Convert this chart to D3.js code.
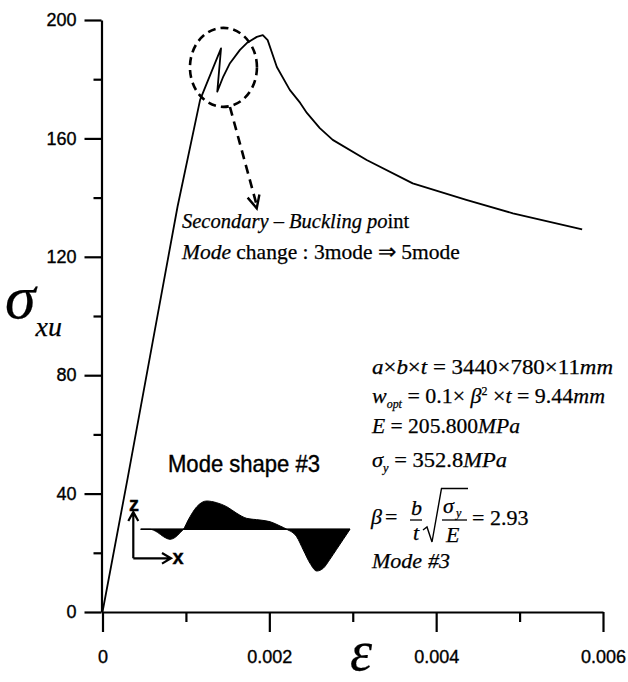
<!DOCTYPE html>
<html>
<head>
<meta charset="utf-8">
<script src="https://cdn.jsdelivr.net/npm/d3@7"></script>
<style>
body { margin: 0; background: #fff; }
text { fill: #000; }
.tick text { font-family: "Liberation Sans", Arial, sans-serif; font-size: 18px; stroke: #000; stroke-width: 0.35px; }
.serif { font-family: "Liberation Serif", "Times New Roman", serif; stroke: #000; stroke-width: 0.25px; }
.sans { font-family: "Liberation Sans", Arial, sans-serif; stroke: #000; stroke-width: 0.4px; }
</style>
</head>
<body>
<div id="chart"></div>
<script>
// load-shortening curve (strain, stress in MPa)
var strain = [0, 0.0003, 0.0006, 0.0009, 0.00117, 0.00125, 0.00135, 0.001421, 0.001376, 0.001448,
  0.001528, 0.001648, 0.00173, 0.00185, 0.001922, 0.00198, 0.00209, 0.002245, 0.00237,
  0.00245, 0.002605, 0.00276, 0.003167, 0.003719, 0.004361, 0.00492, 0.00575];
var stress = [0, 45, 91, 137, 173, 178.6, 185.5, 190.4, 175.8, 180.9,
  185.4, 189.9, 192.2, 194.3, 194.9, 193.2, 184.1, 176.4, 172,
  168.6, 163.5, 159.5, 152.7, 144.8, 139.2, 134.7, 129.3];

// axis ticks
var yMajor = [0, 40, 80, 120, 160, 200];
var yMinor = [20, 60, 100, 140, 180];
var xMajor = [0, 0.002, 0.004, 0.006];
var xMinor = [0.001, 0.003, 0.005];
var xTickLabels = ["0", "0.002", "0.004", "0.006"];

// mode shape #3 : position along plate (0..1) and deflection
var modePos = [0, 0.045, 0.08, 0.11, 0.14, 0.165, 0.19, 0.204, 0.227, 0.268, 0.315, 0.363, 0.411,
  0.459, 0.506, 0.57, 0.618, 0.666, 0.698, 0.745, 0.777, 0.809, 0.841, 0.872, 0.904, 0.936, 0.968, 1];
var modeDefl = [0, 0, -3, -7.5, -10, -8, -3, 0, 9.3, 22.6, 28.3, 26.6, 22.6,
  16, 11, 9.3, 7.6, 3.3, 0, -7.4, -20.7, -34, -41.7, -39, -30, -20, -10, 0];

// annotation: circled point and arrow (data units)
var circleAt = [0.00145, 184];
var arrowFrom = [0.001528, 170.6];
var arrowTo = [0.001849, 136.4];

var W = 628, H = 682;
var svg = d3.select("#chart").append("svg").attr("width", W).attr("height", H);

var x = d3.scaleLinear().domain([0, 0.006]).range([102.5, 603]);
var y = d3.scaleLinear().domain([0, 200]).range([612, 20]);

// y axis
var gy = svg.append("g").attr("transform", "translate(101.5,0)")
  .call(d3.axisLeft(y).tickValues(yMajor).tickSize(17).tickSizeOuter(0).tickPadding(8).tickFormat(d3.format("d")));
var gy2 = svg.append("g").attr("transform", "translate(101.5,0)")
  .call(d3.axisLeft(y).tickValues(yMinor).tickSize(8).tickFormat(""));
gy2.select(".domain").remove();

// x axis
var gx = svg.append("g").attr("transform", "translate(0,612)")
  .call(d3.axisBottom(x).tickValues(xMajor).tickSize(20).tickSizeOuter(0)
    .tickFormat(function(d, i) { return xTickLabels[i]; }));
gx.selectAll(".tick text").attr("y", 38);
var gx2 = svg.append("g").attr("transform", "translate(0,612)")
  .call(d3.axisBottom(x).tickValues(xMinor).tickSize(10).tickFormat(""));
gx2.select(".domain").remove();

svg.selectAll(".domain, .tick line").attr("stroke", "#000").attr("stroke-width", 2.2);

// curve
var line = d3.line()
  .x(function(i) { return x(strain[i]); })
  .y(function(i) { return y(stress[i]); });
svg.append("path")
  .attr("d", line(d3.range(strain.length)))
  .attr("fill", "none")
  .attr("stroke", "#000")
  .attr("stroke-width", 1.8)
  .attr("stroke-linejoin", "round");

// dashed circle + arrow
svg.append("ellipse")
  .attr("cx", x(circleAt[0])).attr("cy", y(circleAt[1]))
  .attr("rx", 33.5).attr("ry", 39.5)
  .attr("fill", "none").attr("stroke", "#000")
  .attr("stroke-width", 2.6).attr("stroke-dasharray", "8,5");

var ax0 = x(arrowFrom[0]), ay0 = y(arrowFrom[1]), ax1 = x(arrowTo[0]), ay1 = y(arrowTo[1]);
svg.append("line")
  .attr("x1", ax0).attr("y1", ay0).attr("x2", ax1).attr("y2", ay1 - 3)
  .attr("stroke", "#000").attr("stroke-width", 2.6).attr("stroke-dasharray", "9,6");
var ang = Math.atan2(ay1 - ay0, ax1 - ax0);
var wing = 14, spread = 0.45;
svg.append("path")
  .attr("d", "M" + (ax1 - wing * Math.cos(ang - spread)) + "," + (ay1 - wing * Math.sin(ang - spread)) +
    "L" + ax1 + "," + ay1 +
    "L" + (ax1 - wing * Math.cos(ang + spread)) + "," + (ay1 - wing * Math.sin(ang + spread)))
  .attr("fill", "none").attr("stroke", "#000").attr("stroke-width", 2.4);

// annotation text
var ann1 = svg.append("text").attr("class", "serif").attr("x", 182).attr("y", 228).attr("font-size", 20.5);
ann1.append("tspan").attr("font-style", "italic").text("Secondary \u2013 Buckling po");
ann1.append("tspan").text("int");
var ann2 = svg.append("text").attr("class", "serif").attr("x", 182).attr("y", 259).attr("font-size", 21.5);
ann2.append("tspan").attr("font-style", "italic").text("Mode");
ann2.append("tspan").text(" change : 3mode \u21D2 5mode");

// axis titles
var yt = svg.append("text").attr("class", "serif").attr("x", 5).attr("y", 318).attr("font-style", "italic");
yt.append("tspan").attr("font-size", 62).text("\u03C3");
yt.append("tspan").attr("font-size", 28).attr("dy", 18).text("xu");
svg.append("text").attr("class", "serif").attr("x", 350).attr("y", 670)
  .attr("font-size", 56).attr("font-style", "italic").text("\u03B5");

// parameter block
function mathLine(xp, yp, len, parts) {
  var t = svg.append("text").attr("class", "serif").attr("x", xp).attr("y", yp).attr("font-size", 22)
    .attr("textLength", len).attr("lengthAdjust", "spacingAndGlyphs");
  parts.forEach(function(p) {
    var s = t.append("tspan").text(p[0]);
    if (p[1].indexOf("i") >= 0) s.attr("font-style", "italic");
    if (p[1].indexOf("sub") >= 0) s.attr("font-size", 12).attr("dy", 5);
    if (p[1].indexOf("sup") >= 0) s.attr("font-size", 12).attr("dy", -8);
    if (p[1].indexOf("back") >= 0) s.attr("dy", p[2]);
  });
  return t;
}
mathLine(372, 374, 241, [["a", "i"], ["\u00D7", "n"], ["b", "i"], ["\u00D7", "n"], ["t", "i"],
  [" = 3440\u00D7780\u00D711", "n"], ["mm", "i"]]);
mathLine(372, 403, 233, [["w", "i"], ["opt", "i sub"], [" = 0.1\u00D7 ", "back", -5], ["\u03B2", "i"],
  ["2", "sup"], [" \u00D7", "back", 8], ["t", "i"], [" = 9.44", "n"], ["mm", "i"]]);
mathLine(372, 433, 148, [["E", "i"], [" = 205.800", "n"], ["MPa", "i"]]);
mathLine(372, 467, 135, [["\u03C3", "i"], ["y", "i sub"], [" = 352.8", "back", -5], ["MPa", "i"]]);

// beta formula
function serifText(xp, yp, str, size, italic) {
  return svg.append("text").attr("class", "serif").attr("x", xp).attr("y", yp)
    .attr("font-size", size).attr("font-style", italic ? "italic" : "normal").text(str);
}
serifText(371, 524, "\u03B2", 22, true);
serifText(385, 524, "=", 22, false);
serifText(411, 515, "b", 22, true);
serifText(413, 540, "t", 22, true);
serifText(443, 513, "\u03C3", 22, true);
serifText(456, 517, "y", 12, true);
serifText(446, 542, "E", 22, true);
serifText(472, 525, "= 2.93", 22, false);
svg.append("line").attr("x1", 410).attr("x2", 422).attr("y1", 520).attr("y2", 520)
  .attr("stroke", "#000").attr("stroke-width", 1.3);
svg.append("line").attr("x1", 442).attr("x2", 467).attr("y1", 520).attr("y2", 520)
  .attr("stroke", "#000").attr("stroke-width", 1.3);
svg.append("path").attr("d", "M423,530L427,527L432,542L441.5,488.5L468,488.5")
  .attr("fill", "none").attr("stroke", "#000").attr("stroke-width", 1.4);
serifText(372, 568, "Mode", 22, true);
serifText(428, 568, "#3", 22, true);

// mode shape inset
var mx = d3.scaleLinear().domain([0, 1]).range([140.7, 350]);
var mz = d3.scaleLinear().domain([-41.7, 28.3]).range([571, 501]);
svg.append("text").attr("class", "sans").attr("x", 168).attr("y", 472)
  .attr("font-size", 24).attr("textLength", 152).attr("lengthAdjust", "spacingAndGlyphs")
  .text("Mode shape #3");
var area = d3.area()
  .x(function(i) { return mx(modePos[i]); })
  .y0(mz(0))
  .y1(function(i) { return mz(modeDefl[i]); })
  .curve(d3.curveMonotoneX);
svg.append("path").attr("d", area(d3.range(modePos.length))).attr("fill", "#000")
  .attr("stroke", "#000").attr("stroke-width", 1);
svg.append("line").attr("x1", mx(0)).attr("x2", mx(1)).attr("y1", mz(0)).attr("y2", mz(0))
  .attr("stroke", "#000").attr("stroke-width", 1.5);

// z / x direction arrows
var ox = 133.3, oy = 558.3;
svg.append("path").attr("d", "M" + ox + "," + oy + "V512M" + (ox - 5) + ",521L" + ox + ",512L" + (ox + 5) + ",521")
  .attr("fill", "none").attr("stroke", "#000").attr("stroke-width", 2.2);
svg.append("path").attr("d", "M" + ox + "," + oy + "H171M162,553L171," + oy + "L162,563.6")
  .attr("fill", "none").attr("stroke", "#000").attr("stroke-width", 2.2);
svg.append("text").attr("class", "sans").attr("x", 134).attr("y", 510.5).attr("text-anchor", "middle")
  .attr("font-size", 20).attr("font-weight", "bold").text("z");
svg.append("text").attr("class", "sans").attr("x", 178).attr("y", 564).attr("text-anchor", "middle")
  .attr("font-size", 20).attr("font-weight", "bold").text("x");
</script>
</body>
</html>
